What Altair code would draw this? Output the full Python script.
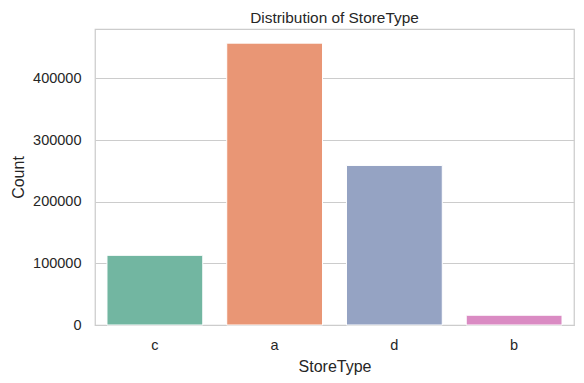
import altair as alt
import pandas as pd

store_types = ["c", "a", "d", "b"]
counts = [112978, 457077, 258774, 15830]
colors = ["#72b6a1", "#e99675", "#95a3c3", "#da8bc3"]
y_ticks = [0, 100000, 200000, 300000, 400000]

df = pd.DataFrame({"StoreType": store_types, "Count": counts})

font = "Liberation Sans"
chart = alt.Chart(df).mark_bar(stroke="white", strokeWidth=1).encode(
    x=alt.X("StoreType:N", sort=store_types,
            scale=alt.Scale(paddingInner=0.2, paddingOuter=0.1),
            axis=alt.Axis(title="StoreType", labelAngle=0, ticks=False, domain=False,
                          grid=False, labelPadding=13, titlePadding=7)),
    y=alt.Y("Count:Q", scale=alt.Scale(domain=[0, 480000], nice=False),
            axis=alt.Axis(title="Count", values=y_ticks, format="d", ticks=False,
                          domain=False, grid=True, labelPadding=14, titlePadding=6)),
    color=alt.Color("StoreType:N", scale=alt.Scale(domain=store_types, range=colors), legend=None),
).properties(
    width=479, height=296,
    title=alt.TitleParams("Distribution of StoreType", fontSize=15.4, font=font,
                          fontWeight="normal", color="#262626", offset=3),
    autosize=alt.AutoSizeParams(type="none"),
    padding={"left": 87, "top": 21, "right": 2, "bottom": 50},
).configure_view(
    stroke="#cccccc", strokeWidth=1.25
).configure_axis(
    labelFont=font, titleFont=font, labelFontSize=14.5, titleFontSize=16,
    labelColor="#262626", titleColor="#262626", titleFontWeight="normal",
    gridColor="#cccccc", gridWidth=1
)

chart.save("out.html", embed_options={"renderer": "svg", "actions": False})
